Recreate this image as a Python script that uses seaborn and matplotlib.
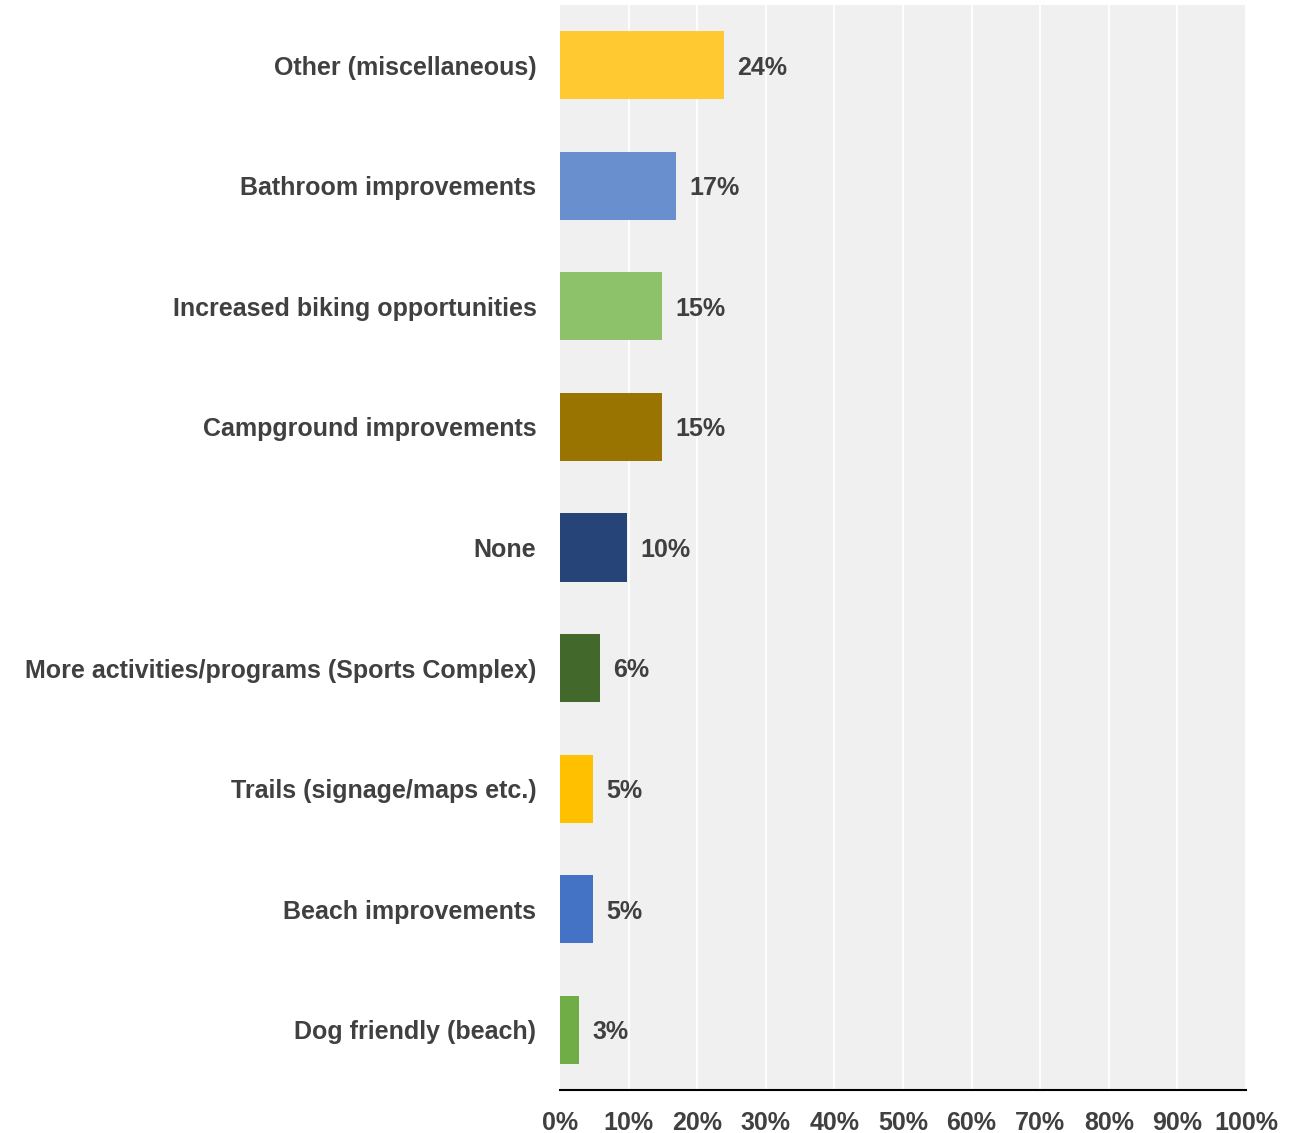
import matplotlib
matplotlib.use("Agg")
import matplotlib.pyplot as plt
import seaborn as sns
import pandas as pd

categories = [
    "Other (miscellaneous)",
    "Bathroom improvements",
    "Increased biking opportunities",
    "Campground improvements",
    "None",
    "More activities/programs (Sports Complex)",
    "Trails (signage/maps etc.)",
    "Beach improvements",
    "Dog friendly (beach)",
]
values = [23.9, 16.9, 14.9, 14.9, 9.8, 5.8, 4.8, 4.8, 2.8]
value_labels = ["24%", "17%", "15%", "15%", "10%", "6%", "5%", "5%", "3%"]
colors = ["#ffc932", "#6a8fcf", "#8dc16a", "#9a7400", "#264478",
          "#43682b", "#ffc000", "#4472c4", "#70ad47"]
x_ticks = [0, 10, 20, 30, 40, 50, 60, 70, 80, 90, 100]
x_tick_labels = [f"{t}%" for t in x_ticks]

df = pd.DataFrame({"category": categories, "value": values})

sns.set_theme(style="white")
plt.rcParams["font.family"] = ["Liberation Sans", "DejaVu Sans"]

fig = plt.figure(figsize=(12.94, 11.33), dpi=100)
ax = fig.add_axes([560/1294, 1 - 1090/1133, 686/1294, 1085/1133])
ax.set_facecolor("#f0f0f0")

sns.barplot(data=df, y="category", x="value", hue="category", palette=colors,
            orient="h", width=0.565, legend=False, ax=ax, saturation=1,
            edgecolor="none", zorder=3)

ax.set_xlim(0, 100)
ax.set_ylim(8.5, -0.5)
ax.set_xticks(x_ticks)
ax.set_xticklabels(x_tick_labels)
for t in x_ticks[1:]:
    ax.axvline(t, color="white", lw=1.3, zorder=1)

text_color = "#404040"
fs = 18
for i, (v, lab) in enumerate(zip(values, value_labels)):
    ax.text(v + 1.9, i + 0.02, lab, va="center", ha="left", fontsize=fs,
            fontweight="bold", color=text_color, zorder=4)

ax.set_xlabel("")
ax.set_ylabel("")
for s in ["top", "right", "left"]:
    ax.spines[s].set_visible(False)
ax.spines["bottom"].set_color("black")
ax.spines["bottom"].set_linewidth(1.5)
ax.tick_params(axis="y", length=0, pad=17, labelsize=fs, labelcolor=text_color)
ax.tick_params(axis="x", length=0, pad=15, labelsize=fs, labelcolor=text_color)
for lab in ax.get_yticklabels() + ax.get_xticklabels():
    lab.set_fontweight("bold")

fig.savefig("out.png", dpi=100, facecolor="white")
